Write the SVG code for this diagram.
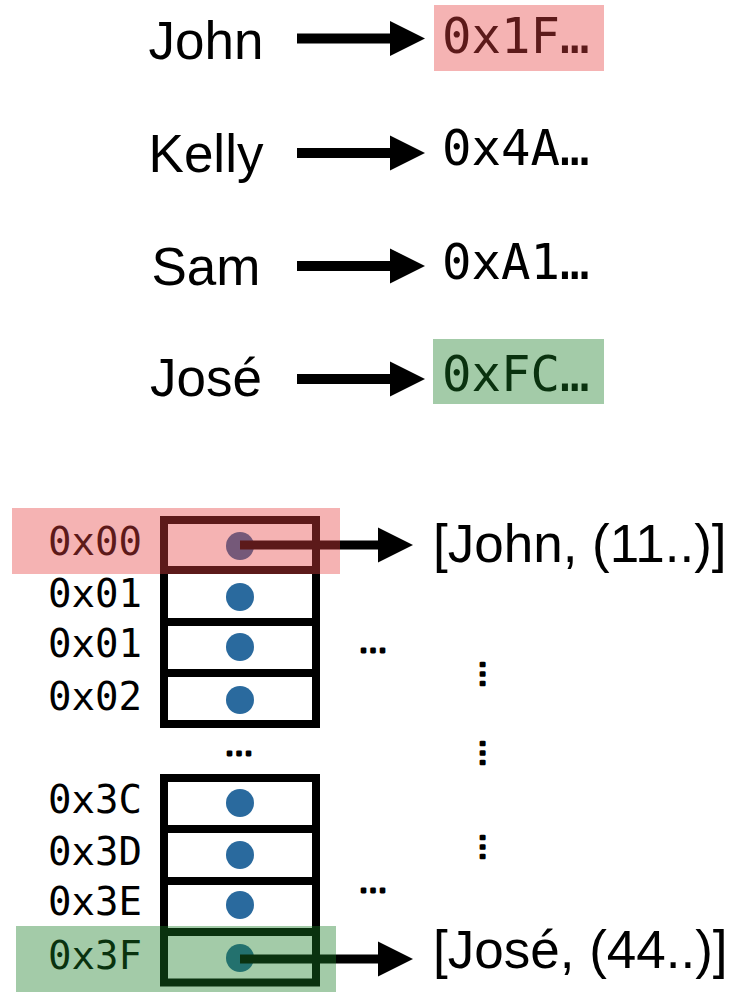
<svg xmlns="http://www.w3.org/2000/svg" width="750" height="1006" viewBox="0 0 750 1006">
<style>
.name{font-family:"Liberation Sans",Arial,sans-serif;font-size:53px;fill:#000}
.hex{font-family:"DejaVu Sans Mono","Liberation Mono",monospace;font-size:49px;fill:#000}
.addr{font-family:"DejaVu Sans Mono","Liberation Mono",monospace;font-size:39px;fill:#000}
.cell{fill:#fff;stroke:#000;stroke-width:8}
.dot{fill:#2a6a9e}
.line{stroke:#000;fill:none}
.head{fill:#000}
.ell{font-family:"Liberation Sans",Arial,sans-serif;font-size:30px;fill:#000;stroke:#000;stroke-width:2.8;stroke-linejoin:round;text-anchor:middle}
.hlr{fill:rgb(230,65,65);fill-opacity:0.4}
.hlg{fill:rgb(25,125,37);fill-opacity:0.4}
</style>
<rect width="750" height="1006" fill="#fff"/>

<g id="name-john"><text class="name" x="206" y="59" text-anchor="middle">John</text></g>
<g id="name-kelly"><text class="name" x="206" y="172" text-anchor="middle">Kelly</text></g>
<g id="name-sam"><text class="name" x="206" y="285" text-anchor="middle">Sam</text></g>
<g id="name-jose"><text class="name" x="206" y="396" text-anchor="middle">José</text></g>

<g id="hash-john"><text class="hex" x="442" y="53">0x1F…</text></g>
<g id="hash-kelly"><text class="hex" x="442" y="165">0x4A…</text></g>
<g id="hash-sam"><text class="hex" x="442" y="279">0xA1…</text></g>
<g id="hash-jose"><text class="hex" x="442" y="391">0xFC…</text></g>

<g id="table-top">
<rect class="cell" x="164" y="520" width="152" height="50"/>
<rect class="cell" x="164" y="570" width="152" height="52"/>
<rect class="cell" x="164" y="622" width="152" height="51"/>
<rect class="cell" x="164" y="673" width="152" height="51"/>
</g>
<g id="table-bottom">
<rect class="cell" x="164" y="778" width="152" height="51"/>
<rect class="cell" x="164" y="829" width="152" height="52"/>
<rect class="cell" x="164" y="881" width="152" height="51"/>
<rect class="cell" x="164" y="932" width="152" height="50.5"/>
</g>

<g id="dots">
<circle class="dot" cx="240" cy="546" r="14"/>
<circle class="dot" cx="240" cy="597" r="14"/>
<circle class="dot" cx="240" cy="647" r="14"/>
<circle class="dot" cx="240" cy="700" r="14"/>
<circle class="dot" cx="240" cy="803" r="14"/>
<circle class="dot" cx="240" cy="855" r="14"/>
<circle class="dot" cx="240" cy="905" r="14"/>
<circle class="dot" cx="240" cy="958" r="14"/>
</g>

<g id="addresses">
<text class="addr" x="48" y="555">0x00</text>
<text class="addr" x="48" y="607">0x01</text>
<text class="addr" x="48" y="657">0x01</text>
<text class="addr" x="48" y="710">0x02</text>
<text class="addr" x="48" y="813">0x3C</text>
<text class="addr" x="48" y="865">0x3D</text>
<text class="addr" x="48" y="915">0x3E</text>
<text class="addr" x="48" y="969">0x3F</text>
</g>

<g id="entry-john"><text class="name" x="433" y="562">[John, (11..)]</text></g>
<g id="entry-jose"><text class="name" x="433" y="968">[José, (44..)]</text></g>

<g id="ellipses">
<text class="ell" x="239" y="755">…</text>
<text class="ell" x="373" y="652">…</text>
<text class="ell" x="373" y="892">…</text>
<text class="ell" x="483" y="676" transform="rotate(90 483 674)">…</text>
<text class="ell" x="483" y="755" transform="rotate(90 483 753)">…</text>
<text class="ell" x="483" y="849" transform="rotate(90 483 847)">…</text>
</g>

<g id="connectors">
<line class="line" x1="297" y1="38.5" x2="392" y2="38.5" stroke-width="10"/>
<polygon class="head" points="390,21 425,38.5 390,56"/>
<line class="line" x1="297" y1="153" x2="392" y2="153" stroke-width="10"/>
<polygon class="head" points="390,135.5 425,153 390,170.5"/>
<line class="line" x1="297" y1="266" x2="392" y2="266" stroke-width="10"/>
<polygon class="head" points="390,248.5 425,266 390,283.5"/>
<line class="line" x1="297" y1="379" x2="392" y2="379" stroke-width="10"/>
<polygon class="head" points="390,361.5 425,379 390,396.5"/>
<line class="line" x1="240" y1="545" x2="380" y2="545" stroke-width="9"/>
<polygon class="head" points="378,527.5 413,545 378,562.5"/>
<line class="line" x1="240" y1="959" x2="380" y2="959" stroke-width="9"/>
<polygon class="head" points="378,941.5 413,959 378,976.5"/>
</g>

<g id="highlights">
<rect class="hlr" x="434" y="5" width="170" height="66"/>
<rect class="hlg" x="433" y="339" width="171" height="65"/>
<rect class="hlr" x="12" y="508" width="328" height="66"/>
<rect class="hlg" x="16" y="926" width="320" height="66"/>
</g>
</svg>
